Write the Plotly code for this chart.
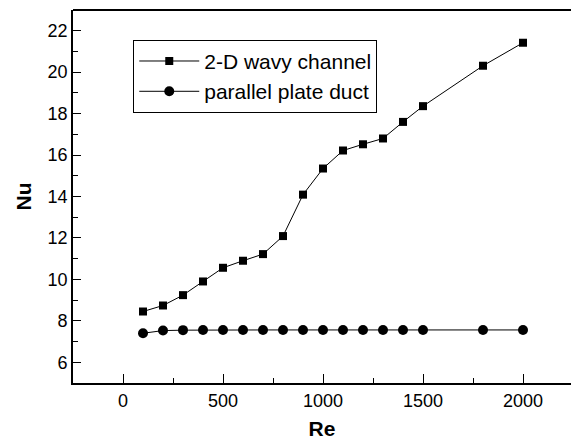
import plotly.graph_objects as go

re_vals = [100, 200, 300, 400, 500, 600, 700, 800, 900, 1000, 1100, 1200, 1300, 1400, 1500, 1800, 2000]
nu_wavy = [8.45, 8.74, 9.24, 9.90, 10.56, 10.90, 11.22, 12.09, 14.09, 15.35, 16.22, 16.52, 16.80, 17.60, 18.36, 20.31, 21.42]
nu_plate = [7.40, 7.53, 7.55, 7.56, 7.56, 7.56, 7.56, 7.56, 7.56, 7.56, 7.56, 7.56, 7.56, 7.56, 7.56, 7.56, 7.56]

x_ticks = [0, 500, 1000, 1500, 2000]
y_ticks = [6, 8, 10, 12, 14, 16, 18, 20, 22]
x_minor = [250, 750, 1250, 1750]
y_minor = [7, 9, 11, 13, 15, 17, 19, 21]

FONT = "Arial, Liberation Sans, sans-serif"

fig = go.Figure()
fig.add_trace(go.Scatter(
    x=re_vals, y=nu_wavy, mode="lines+markers", name="2-D wavy channel",
    line=dict(color="black", width=1),
    marker=dict(symbol="square", size=8, color="black"),
))
fig.add_trace(go.Scatter(
    x=re_vals, y=nu_plate, mode="lines+markers", name="parallel plate duct",
    line=dict(color="black", width=1),
    marker=dict(symbol="circle", size=10, color="black"),
))

# frame: top line only (the reference shows no right frame line)
fig.add_shape(type="line", xref="paper", yref="paper", x0=0, x1=1, y0=1, y1=1,
              line=dict(color="black", width=1.8), layer="above")
fig.add_shape(type="line", xref="paper", yref="paper", x0=1.002, x1=1.002, y0=0.003, y1=0.997,
              line=dict(color="white", width=3), layer="above")

fig.update_layout(
    width=573, height=444,
    margin=dict(l=73, r=2, t=10, b=61),
    paper_bgcolor="white", plot_bgcolor="white",
    font=dict(family=FONT, color="black"),
    showlegend=True,
    legend=dict(
        x=0.121, y=0.92, xanchor="left", yanchor="top",
        bordercolor="black", borderwidth=1, bgcolor="white",
        font=dict(size=21, family=FONT, color="black"),
        tracegroupgap=0, itemwidth=60,
    ),
    xaxis=dict(
        range=[-250, 2240], tickvals=x_ticks, ticktext=[str(v) for v in x_ticks],
        ticks="inside", ticklen=9, tickwidth=1.2, tickcolor="black",
        showline=True, linecolor="black", linewidth=1.8, mirror=False,
        showgrid=False, zeroline=False,
        tickfont=dict(size=18, family=FONT),
        minor=dict(tickvals=x_minor, ticks="inside", ticklen=5, tickcolor="black", showgrid=False),
        title=dict(text="<b>Re</b>", font=dict(size=21, family=FONT), standoff=12),
    ),
    yaxis=dict(
        range=[5, 23], tickvals=y_ticks, ticktext=[str(v) for v in y_ticks],
        ticks="inside", ticklen=8, tickwidth=1.2, tickcolor="black",
        showline=True, linecolor="black", linewidth=1.8, mirror=False,
        showgrid=False, zeroline=False,
        tickfont=dict(size=18, family=FONT),
        minor=dict(tickvals=y_minor, ticks="inside", ticklen=5, tickcolor="black", showgrid=False),
        title=dict(text="<b>Nu</b>", font=dict(size=21, family=FONT), standoff=10),
    ),
)

fig.write_html("out.html")
